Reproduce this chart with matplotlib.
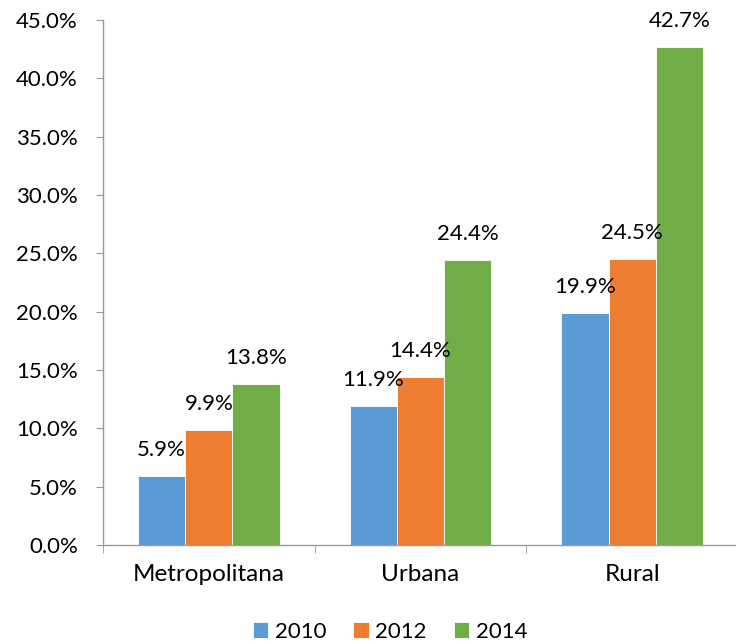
import matplotlib
matplotlib.use("Agg")
import matplotlib.pyplot as plt
import numpy as np
from matplotlib.ticker import FuncFormatter, FixedLocator

plt.rcParams['font.family'] = ['Lato', 'DejaVu Sans']

categories = ["Metropolitana", "Urbana", "Rural"]
years = ["2010", "2012", "2014"]
values = {
    "2010": [5.9, 11.9, 19.9],
    "2012": [9.9, 14.4, 24.5],
    "2014": [13.8, 24.4, 42.7],
}
colors = ["#5B9BD5", "#ED7D31", "#70AD47"]

FS = 16

fig = plt.figure(figsize=(7.36, 6.44), dpi=100)
ax = fig.add_axes([103/736, 99/644, 635/736, 525/644])

x = np.arange(len(categories))
w = 0.223
for i, (yr, c) in enumerate(zip(years, colors)):
    pos = x + (i - 1) * w
    ax.bar(pos, values[yr], width=w, color=c, label=yr,
           edgecolor="white", linewidth=0.6)
    for p, v in zip(pos, values[yr]):
        ax.annotate(f"{v:.1f}%", (p, v), xytext=(0, 14.4), textcoords="offset points",
                    ha="center", va="baseline", fontsize=FS, color="black")

ax.set_xlim(-0.5, 2.5)
ax.set_ylim(0, 45)
ax.set_yticks(np.arange(0, 45.1, 5))
ax.yaxis.set_major_formatter(FuncFormatter(lambda v, p: f"{v:.1f}%"))
ax.set_xticks(x)
ax.set_xticklabels(categories)
ax.xaxis.set_minor_locator(FixedLocator([-0.5, 0.5, 1.5, 2.5]))
ax.tick_params(axis="x", which="major", length=0, pad=14, labelsize=17.5)
ax.tick_params(axis="x", which="minor", length=6, color="#999999", direction="out")
ax.tick_params(axis="y", length=5, color="#999999", labelsize=FS, pad=13)

for s in ["top", "right"]:
    ax.spines[s].set_visible(False)
for s in ["left", "bottom"]:
    ax.spines[s].set_color("#999999")
    ax.spines[s].set_linewidth(1.0)

fig.legend(loc="center", bbox_to_anchor=(390/736, 1 - 632/644), ncol=3, frameon=False,
           fontsize=FS, handlelength=0.7, handleheight=0.7, handletextpad=0.3,
           columnspacing=1.2)

fig.savefig("out.png", dpi=100)
